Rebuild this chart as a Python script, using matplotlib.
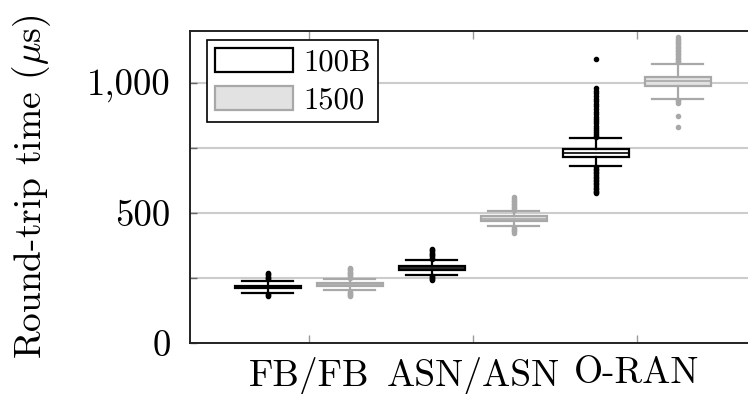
import matplotlib
matplotlib.use("Agg")
import matplotlib.pyplot as plt
from matplotlib.patches import Patch

plt.rcParams["font.family"] = "serif"
plt.rcParams["font.serif"] = ["cmr10", "DejaVu Serif"]
plt.rcParams["mathtext.fontset"] = "cm"
plt.rcParams["axes.unicode_minus"] = False
plt.rcParams["axes.formatter.use_mathtext"] = True

# Data (round-trip time in microseconds)
groups = ["FB/FB", "ASN/ASN", "O-RAN"]
sizes = ["100B", "1500"]

q1 = [210, 219, 281, 469, 716, 990]
med = [215, 224, 290, 478, 730, 1006]
q3 = [220, 229, 298, 487, 745, 1022]
whislo = [194, 202, 262, 450, 682, 940]
whishi = [239, 245, 318, 507, 787, 1074]
fliers = [
    [245, 250, 255, 260, 265, 269, 190, 186, 181],
    [250, 255, 260, 265, 270, 275, 280, 285, 290, 198, 194, 190, 186, 181],
    [323, 328, 333, 338, 343, 348, 353, 358, 363, 258, 254, 250, 246, 241],
    [512, 518, 524, 530, 536, 542, 548, 554, 561, 445, 440, 435, 430, 423],
    [792, 798, 805, 812, 820, 828, 836, 845, 853, 862, 870, 880, 890, 900,
     910, 920, 930, 940, 950, 960, 970, 980, 1091,
     676, 670, 664, 658, 652, 646, 640, 634, 628, 622, 616, 610, 604, 598,
     592, 586, 580, 576],
    [1080, 1086, 1092, 1098, 1104, 1110, 1116, 1122, 1128, 1134, 1140, 1146,
     1152, 1158, 1164, 1170, 1176, 935, 930, 925, 874, 831],
]

fig = plt.figure(figsize=(7.48, 3.94), dpi=100)
ax = fig.add_axes([0.254, 0.1294, 0.7564, 0.7919])

edge = ["black", "#a8a8a8"]
face = ["white", "#e2e2e2"]

for i in range(6):
    k = i % 2
    st = dict(q1=q1[i], med=med[i], q3=q3[i], whislo=whislo[i],
              whishi=whishi[i], fliers=fliers[i])
    ax.bxp([st], positions=[i + 1], widths=0.8, capwidths=0.62,
           patch_artist=True, showfliers=True,
           boxprops=dict(facecolor=face[k], edgecolor=edge[k], linewidth=1.6),
           medianprops=dict(color=edge[k], linewidth=1.2),
           whiskerprops=dict(color=edge[k], linewidth=1.6),
           capprops=dict(color=edge[k], linewidth=1.6),
           flierprops=dict(marker="o", markersize=3, markerfacecolor=edge[k],
                           markeredgecolor=edge[k]),
           zorder=3)

ax.set_xlim(0.05, 6.95)
ax.set_ylim(0, 1200)
ax.set_xticks([1.5, 3.5, 5.5])
ax.set_xticklabels(groups, fontsize=27)
ax.set_yticks([0, 250, 500, 750, 1000])
ax.set_yticklabels(["0", "", "500", "", "1,000"], fontsize=26.5)
ax.tick_params(axis="x", direction="in", length=6, width=1, color="#999999",
               top=True, pad=10)
ax.tick_params(axis="y", direction="in", length=5, width=1, color="#666666",
               pad=14)
ax.grid(axis="y", color="#cccccc", linewidth=1.5, zorder=0)
ax.set_axisbelow(True)
for s in ax.spines.values():
    s.set_linewidth(1.4)
    s.set_color("#222222")

ax.set_ylabel(r"Round-trip time ($\mu$s)", fontsize=27, labelpad=24)

ax_w = 0.7564 * 748
ax_h = 0.7919 * 394
handles = [Patch(facecolor=face[0], edgecolor=edge[0], linewidth=1.6),
           Patch(facecolor=face[1], edgecolor=edge[1], linewidth=1.6)]
leg = ax.legend(handles, sizes, loc="upper left", fontsize=22,
                bbox_to_anchor=(17 / ax_w, 1 - 9 / ax_h), borderaxespad=0,
                fancybox=False, framealpha=1, edgecolor="black",
                handlelength=2.55, handleheight=0.85, handletextpad=0.35,
                labelspacing=0.3, borderpad=0.25)
leg.get_frame().set_linewidth(1.2)

fig.savefig("out.png", dpi=100)
